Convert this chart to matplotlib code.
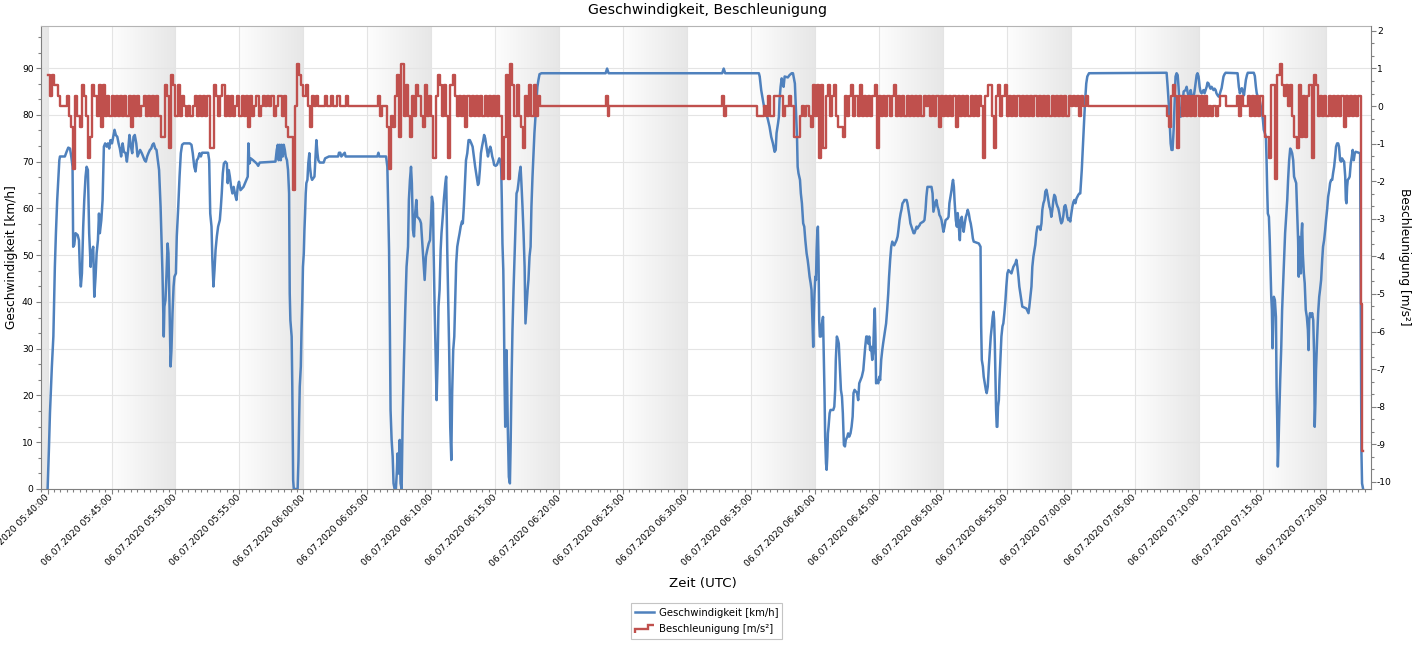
import numpy as np
import matplotlib
matplotlib.use('Agg')
import matplotlib.pyplot as plt
from matplotlib.ticker import MultipleLocator, FuncFormatter
from matplotlib.colors import LinearSegmentedColormap
from matplotlib.legend_handler import HandlerBase
from matplotlib.lines import Line2D
from datetime import datetime, timedelta

# time axis: seconds after 06.07.2020 05:40:00 (UTC)
START = datetime(2020, 7, 6, 5, 40, 0)

# speed readings (seconds, km/h)
speed_1 = [(0, 0.0), (6, 8.3), (11, 16.2), (16, 21.9), (20, 26.2), (27, 32.6), (30, 39.0), (34, 47.5),
           (39, 54.7), (45, 61.8), (50, 66.1), (55, 70.3), (58, 71.1), (81, 71.1), (89, 72.1), (97, 73.0),
           (105, 72.8), (111, 71.1), (117, 68.9), (120, 51.8), (125, 52.2), (131, 54.7), (141, 54.3),
           (147, 53.2), (152, 46.1), (156, 43.3), (161, 46.1), (167, 56.1), (172, 61.8), (178, 66.8),
           (183, 68.9), (189, 68.2), (195, 54.7), (202, 47.5), (206, 50.4), (214, 51.8), (219, 41.1),
           (225, 45.4), (230, 50.4), (236, 53.2), (241, 58.9), (245, 54.7), (252, 57.5), (258, 61.8),
           (264, 73.2), (270, 73.9), (277, 73.2), (283, 73.9), (289, 72.8), (295, 74.6), (302, 73.9),
           (308, 75.3), (314, 76.8), (320, 75.7), (327, 75.3), (333, 73.9), (339, 72.8), (345, 71.1),
           (352, 73.9), (358, 72.1), (366, 71.8), (372, 70.0), (378, 72.5), (384, 75.7), (391, 73.2),
           (397, 71.8), (403, 75.3), (409, 75.7), (416, 73.9), (422, 71.1), (428, 71.8), (434, 72.5),
           (442, 71.8), (448, 71.1), (455, 70.3), (461, 70.0), (467, 71.1), (473, 71.8), (480, 72.5),
           (486, 72.8), (492, 73.6), (498, 73.9), (505, 72.8), (511, 72.5), (517, 70.3), (523, 68.2),
           (530, 60.4), (534, 54.0), (539, 46.1), (542, 39.0), (545, 32.6), (548, 39.0), (553, 40.4),
           (558, 46.1), (563, 52.5), (567, 50.4), (572, 39.0), (577, 26.2), (581, 29.7), (586, 37.6),
           (591, 43.3), (595, 45.4), (602, 46.1), (606, 54.0), (613, 60.4), (619, 66.8), (625, 71.8),
           (631, 73.6), (639, 73.9), (667, 73.9), (675, 73.6), (681, 71.8), (688, 68.9), (694, 67.9),
           (700, 70.3), (706, 70.7), (713, 71.8), (719, 71.1), (725, 71.9), (753, 71.9), (758, 70.3),
           (763, 58.9), (769, 56.1), (773, 49.0), (778, 43.3), (783, 46.8), (788, 51.1), (794, 54.0),
           (800, 56.1), (808, 57.5), (813, 60.4), (817, 63.2), (822, 67.5), (827, 69.6), (834, 70.0),
           (841, 69.6), (845, 65.4), (850, 68.2), (855, 66.8), (861, 64.6), (867, 63.2), (873, 64.6),
           (880, 62.9), (886, 61.8), (892, 64.6), (898, 65.7), (905, 63.9), (919, 64.6), (933, 66.1),
           (939, 66.8), (942, 73.9), (947, 69.6), (953, 70.7), (964, 70.3), (981, 69.6), (988, 69.1),
           (995, 69.8), (1069, 70.0), (1075, 72.5), (1080, 73.6), (1084, 70.3), (1089, 73.6),
           (1094, 70.3), (1098, 73.6), (1103, 71.1), (1108, 73.6), (1113, 72.5), (1117, 71.1),
           (1123, 70.3), (1128, 68.2), (1133, 63.2), (1136, 41.8), (1139, 36.1), (1145, 32.6),
           (1148, 21.9), (1152, 1.9), (1155, 0.0), (1173, 0.0), (1177, 6.2), (1180, 14.8), (1183, 21.9),
           (1188, 26.2), (1191, 33.3), (1195, 40.4), (1198, 47.5), (1202, 50.4), (1205, 55.4),
           (1208, 58.9), (1211, 63.2), (1214, 65.4), (1219, 66.1), (1223, 69.6), (1228, 71.8),
           (1231, 68.9), (1236, 66.8), (1241, 66.1), (1252, 66.8), (1256, 70.3), (1261, 74.6),
           (1266, 71.8), (1270, 70.3), (1277, 69.8), (1295, 69.8), (1302, 70.7), (1320, 71.1),
           (1363, 71.1), (1367, 71.9), (1373, 71.9), (1378, 71.1), (1394, 71.9), (1398, 71.1),
           (1419, 71.1)]

speed_2 = [(1547, 71.1), (1552, 71.9), (1556, 71.1), (1588, 71.1), (1594, 68.9), (1597, 61.8), (1602, 51.1),
           (1606, 33.3), (1609, 16.9), (1614, 10.5), (1619, 6.9), (1623, 1.2), (1628, 0.0), (1634, 0.0),
           (1639, 4.1), (1642, 7.6), (1647, 3.3), (1652, 10.5), (1656, 1.2), (1661, 0.0), (1666, 15.5),
           (1672, 27.6), (1678, 38.3), (1684, 47.5), (1691, 51.8), (1695, 61.8), (1700, 66.1), (1705, 68.9),
           (1709, 65.4), (1714, 55.4), (1719, 54.0), (1723, 58.2), (1730, 61.8), (1734, 58.2), (1741, 57.9),
           (1747, 57.5), (1752, 56.8), (1758, 52.5), (1764, 48.3), (1769, 44.7), (1775, 49.7), (1781, 51.1),
           (1788, 52.5), (1794, 53.2), (1798, 56.8), (1803, 62.5), (1808, 61.1), (1811, 51.1), (1816, 38.3),
           (1820, 29.7), (1825, 19.0), (1830, 27.6), (1834, 39.0), (1839, 42.6), (1844, 51.1), (1848, 54.7),
           (1855, 58.9), (1859, 61.8), (1866, 65.4), (1870, 66.8), (1875, 51.1), (1880, 39.0), (1884, 29.7),
           (1889, 13.3), (1894, 6.2), (1898, 20.5), (1903, 29.7), (1908, 32.6), (1913, 41.1), (1917, 48.3),
           (1922, 51.8), (1927, 53.2), (1933, 54.7), (1938, 56.1), (1944, 57.2), (1948, 56.8), (1953, 60.4),
           (1958, 65.4), (1963, 70.3), (1969, 71.8), (1975, 74.6), (1981, 74.6), (1988, 73.9), (1994, 73.2),
           (2000, 71.1), (2006, 68.9), (2013, 66.8), (2019, 65.0), (2023, 65.4), (2028, 68.2), (2033, 71.8),
           (2038, 73.2), (2044, 74.6), (2048, 75.7), (2053, 75.0), (2059, 73.2), (2066, 71.1), (2072, 72.5),
           (2077, 73.2), (2081, 72.5), (2086, 71.1), (2091, 70.3), (2095, 69.3), (2102, 69.1), (2108, 69.3),
           (2114, 70.0), (2119, 70.7), (2123, 70.3), (2128, 68.9), (2131, 61.8), (2134, 52.5), (2138, 46.8),
           (2141, 36.8), (2144, 22.6), (2147, 13.3), (2150, 22.6), (2153, 29.7), (2156, 22.6), (2159, 13.3),
           (2164, 2.6), (2169, 1.2), (2172, 8.3), (2177, 24.0), (2181, 34.0), (2186, 42.6), (2191, 49.7),
           (2195, 54.7), (2200, 63.2), (2205, 63.9), (2209, 65.4), (2214, 67.5), (2219, 68.9), (2223, 65.4),
           (2228, 60.4), (2233, 54.7), (2238, 47.5), (2242, 35.4), (2247, 39.0), (2252, 42.6), (2256, 44.7),
           (2261, 49.7), (2266, 51.8), (2270, 60.4), (2275, 66.8), (2280, 71.8), (2284, 76.1), (2289, 79.6),
           (2294, 83.2), (2298, 86.0), (2303, 87.5), (2308, 88.7), (2317, 88.9)]

speed_3 = [(2618, 88.9), (2625, 89.9), (2632, 88.9), (3165, 88.9), (3172, 89.9), (3179, 88.9), (3337, 88.9),
           (3341, 88.2), (3348, 85.3), (3356, 83.2), (3364, 81.0), (3372, 80.3), (3380, 78.9), (3387, 77.5),
           (3395, 75.3), (3403, 73.9), (3411, 72.1), (3416, 72.5), (3420, 76.1), (3427, 78.2), (3431, 79.6),
           (3434, 83.2), (3439, 86.0), (3444, 87.8), (3448, 87.1), (3453, 86.0), (3458, 88.2), (3473, 88.0),
           (3481, 88.5), (3491, 88.9), (3497, 88.9)]

speed_4 = [(3506, 86.7), (3511, 81.0), (3516, 75.3), (3519, 68.9), (3523, 67.5), (3530, 66.1), (3534, 63.2),
           (3539, 61.1), (3545, 56.8), (3550, 56.1), (3555, 53.2), (3561, 50.4), (3566, 49.0), (3570, 47.5),
           (3575, 45.4), (3580, 44.0), (3584, 42.6), (3589, 34.8), (3592, 30.4), (3595, 37.6), (3598, 41.8),
           (3602, 45.4), (3605, 44.7), (3608, 51.1), (3611, 54.7), (3614, 56.1), (3617, 49.0), (3620, 36.1),
           (3623, 32.6), (3628, 32.6), (3633, 35.4), (3638, 36.8), (3642, 27.6), (3645, 20.5), (3648, 11.2),
           (3652, 5.5), (3655, 4.1), (3658, 6.9), (3661, 11.9), (3664, 13.3), (3669, 16.2), (3673, 16.9),
           (3686, 16.9), (3691, 17.6), (3695, 21.2), (3698, 27.6), (3703, 32.6), (3708, 31.9), (3712, 31.1),
           (3717, 26.2), (3722, 21.2), (3727, 19.7), (3731, 16.2), (3736, 9.4), (3741, 9.1), (3745, 10.5),
           (3752, 11.2), (3756, 11.9), (3761, 11.2), (3767, 11.9), (3772, 13.3), (3777, 15.5), (3781, 20.5),
           (3786, 21.2), (3798, 20.5), (3803, 19.0), (3808, 22.6), (3820, 24.0), (3827, 25.4), (3831, 27.6),
           (3836, 30.4), (3841, 32.6), (3845, 32.6), (3850, 31.1), (3855, 32.6), (3859, 29.7), (3864, 30.4),
           (3869, 27.6), (3873, 29.0), (3878, 36.1), (3881, 38.6), (3884, 32.6), (3887, 22.6), (3892, 23.3),
           (3897, 22.6), (3902, 24.0), (3906, 23.3), (3911, 27.6), (3916, 29.7), (3920, 31.1), (3925, 32.6),
           (3930, 34.0), (3934, 35.4), (3939, 38.3), (3944, 41.8), (3948, 45.4), (3953, 49.0), (3958, 51.8),
           (3963, 52.9), (3972, 52.1), (3983, 53.2), (3988, 54.0), (3992, 55.4), (3997, 57.5), (4002, 58.9),
           (4006, 59.7), (4011, 61.1), (4016, 61.4), (4020, 61.8), (4030, 61.8), (4034, 61.1), (4039, 59.7),
           (4044, 58.2), (4048, 56.8), (4053, 56.1), (4058, 55.4), (4063, 54.7), (4067, 54.7), (4072, 55.4),
           (4077, 56.1), (4081, 55.7), (4086, 56.1), (4091, 56.4), (4095, 56.8), (4109, 57.2), (4114, 57.5),
           (4119, 59.7), (4123, 62.5), (4128, 64.6), (4147, 64.6), (4152, 63.2), (4156, 59.3), (4161, 60.4),
           (4166, 61.4), (4170, 61.8), (4175, 60.4), (4180, 59.7), (4184, 58.6), (4189, 58.2), (4194, 57.5),
           (4198, 56.4), (4203, 55.0), (4208, 56.1), (4213, 57.5), (4222, 57.8), (4227, 58.2), (4231, 61.1),
           (4236, 62.5), (4241, 63.9), (4245, 65.4), (4248, 66.1), (4252, 64.6), (4255, 61.8), (4258, 59.7),
           (4261, 57.5), (4266, 56.1), (4270, 59.0), (4275, 56.1), (4280, 53.2), (4284, 57.5), (4289, 58.2),
           (4294, 56.1), (4298, 55.0), (4303, 56.8), (4308, 58.2), (4313, 58.9), (4317, 59.7), (4322, 58.9),
           (4327, 57.5), (4331, 56.8), (4336, 55.4), (4341, 53.6), (4345, 52.9), (4369, 52.5), (4377, 51.8),
           (4380, 34.7), (4383, 27.6), (4388, 26.2), (4392, 24.0), (4397, 22.6), (4402, 21.2), (4406, 20.5),
           (4411, 21.9), (4416, 26.2), (4420, 29.0), (4425, 32.6), (4430, 34.8), (4434, 36.8), (4438, 37.9),
           (4441, 36.1), (4444, 31.1), (4447, 24.0), (4450, 16.9), (4453, 13.3), (4456, 13.3), (4459, 17.6),
           (4463, 19.0), (4466, 23.3), (4470, 27.6), (4475, 32.6), (4480, 34.8), (4484, 35.4), (4489, 37.6),
           (4494, 40.4), (4498, 43.3), (4503, 46.1), (4508, 46.8), (4522, 46.1), (4531, 47.5), (4541, 48.3),
           (4545, 49.0), (4550, 47.5), (4555, 45.4), (4559, 43.3), (4564, 41.8), (4569, 40.4), (4573, 39.0),
           (4592, 38.6), (4602, 37.6), (4606, 39.0), (4611, 41.1), (4616, 43.3), (4620, 47.5), (4625, 49.7),
           (4630, 51.1), (4634, 52.2), (4639, 54.7), (4644, 56.1), (4653, 56.1), (4658, 55.4), (4663, 56.8),
           (4667, 59.7), (4672, 61.1), (4677, 61.8), (4681, 63.6), (4686, 64.0), (4691, 62.9), (4695, 61.8),
           (4700, 60.4), (4705, 59.7), (4709, 58.2), (4714, 59.7), (4719, 61.8), (4723, 62.9), (4728, 62.5),
           (4733, 61.1), (4738, 60.4), (4742, 60.0), (4747, 58.9), (4752, 57.5), (4756, 56.8), (4761, 57.2),
           (4766, 58.6), (4770, 60.4), (4775, 60.7), (4780, 59.7), (4784, 58.2), (4789, 57.5), (4794, 57.8),
           (4798, 57.2), (4803, 58.9), (4808, 60.4), (4813, 61.4), (4817, 61.8), (4822, 61.1), (4827, 62.1),
           (4836, 62.9), (4841, 63.2), (4845, 63.2), (4848, 65.4), (4852, 68.2), (4855, 71.1), (4858, 73.9),
           (4861, 76.8), (4864, 79.6), (4867, 82.5), (4870, 84.6), (4873, 86.7), (4878, 88.2), (4886, 88.9)]

speed_5 = [(5250, 89.0), (5255, 86.0), (5260, 82.5), (5264, 78.9), (5269, 73.9), (5273, 72.5), (5278, 72.5),
           (5283, 76.8), (5288, 83.2), (5292, 88.2), (5297, 88.9), (5302, 88.5), (5306, 86.0), (5311, 81.8),
           (5316, 79.6), (5320, 80.0), (5325, 82.5), (5330, 85.0), (5339, 85.3), (5344, 86.0), (5348, 85.0),
           (5353, 83.9), (5358, 83.5), (5363, 85.3), (5367, 84.2), (5372, 83.2), (5377, 83.9), (5381, 85.0),
           (5386, 86.7), (5391, 88.5), (5395, 88.9), (5400, 88.2), (5405, 86.0), (5409, 85.0), (5414, 84.6),
           (5419, 85.0), (5423, 85.3), (5428, 84.6), (5433, 85.3), (5438, 86.0), (5442, 86.9), (5447, 86.7),
           (5452, 86.0), (5456, 85.6), (5461, 86.0), (5466, 85.6), (5470, 85.3), (5475, 85.6), (5480, 85.3),
           (5484, 84.6), (5489, 84.2), (5494, 83.9), (5498, 84.2), (5503, 85.0), (5508, 85.7), (5513, 87.1),
           (5517, 88.2), (5522, 88.7), (5527, 89.0), (5583, 88.9), (5586, 87.5), (5589, 86.0), (5594, 84.6),
           (5598, 85.3), (5603, 85.7), (5608, 85.0), (5613, 84.2), (5617, 85.7), (5622, 87.5), (5627, 88.5),
           (5631, 89.0), (5659, 89.0), (5664, 88.3), (5669, 86.0), (5673, 84.6), (5678, 83.9), (5683, 83.2),
           (5688, 82.8), (5692, 81.8), (5697, 80.7), (5702, 78.9), (5706, 76.8), (5711, 76.1), (5716, 75.3),
           (5719, 70.3), (5722, 63.9), (5725, 58.9), (5730, 58.2), (5734, 53.2), (5738, 46.1), (5741, 41.1),
           (5744, 38.3), (5747, 30.1), (5750, 36.1), (5753, 41.1), (5758, 40.4), (5763, 36.8), (5766, 21.9),
           (5769, 14.8), (5772, 4.8), (5775, 9.1), (5778, 14.8), (5783, 23.3), (5788, 30.4), (5792, 38.3),
           (5797, 44.0), (5802, 49.7), (5806, 54.7), (5811, 58.2), (5816, 61.8), (5820, 66.1), (5825, 70.3),
           (5830, 72.8), (5834, 72.5), (5839, 71.8), (5844, 70.3), (5848, 66.8), (5853, 66.1), (5858, 65.4),
           (5863, 58.9), (5867, 53.2), (5870, 45.4), (5873, 53.9), (5877, 50.4), (5880, 46.1), (5883, 54.7),
           (5886, 56.8), (5889, 50.4), (5894, 46.1), (5898, 44.0), (5903, 38.3), (5908, 36.8), (5913, 34.0),
           (5916, 29.7), (5919, 36.1), (5923, 37.6), (5928, 36.8), (5933, 37.6), (5938, 36.1), (5942, 29.0),
           (5945, 13.3), (5948, 18.3), (5951, 25.4), (5956, 31.9), (5961, 37.6), (5966, 41.1), (5970, 42.6),
           (5975, 44.7), (5980, 49.0), (5984, 51.8), (5989, 53.2), (5994, 55.4), (5998, 57.5), (6003, 59.7),
           (6008, 62.5), (6013, 63.9), (6017, 65.4), (6022, 66.1), (6027, 66.1), (6031, 67.5), (6036, 68.9),
           (6041, 71.1), (6045, 73.2), (6050, 73.9), (6055, 73.9), (6059, 73.2), (6064, 70.3), (6069, 70.0),
           (6073, 70.7), (6078, 70.3), (6083, 70.0), (6088, 66.8), (6091, 61.8), (6094, 61.1), (6097, 64.6),
           (6100, 66.1), (6105, 66.4), (6109, 66.8), (6114, 69.6), (6119, 71.1), (6123, 72.5), (6128, 70.3),
           (6133, 71.8), (6137, 72.1), (6152, 71.9), (6158, 71.7), (6164, 8.3), (6167, 1.2), (6172, 0.0)]

# acceleration readings in km/h per second (1 step = 1/3.6 m/s^2), one reading per 10 s
ACC_STEP = 10
acc_start_1 = 0
acc_run_1 = [3, 1, 3, 2, 2, 1, 0, 0, 0, 1,
             -1, -2, -6, 1, -1, -2, 2, 1, -1, -5,
             -3, 2, 1, -1, 2, -2, 2, -1, 1, -1,
             1, -1, 1, -1, 1, -1, 1, -1, 1, -2,
             1, -1, 1, -1, 0, 1, -1, 1, -1, 1,
             -1, 1, -1, -3, -3, 2, 1, -4, 3, 2,
             -1, 2, -1, 1, 0, -1, 0, -1, 0, 1,
             -1, 1, -1, 1, -1, 1, -4, -4, 2, 1,
             -1, 1, 2, -1, 1, -1, 1, -1, 0, 1,
             -1, 1, -1, 1, -2, 1, -1, 0, 1, -1,
             0, 1, 0, 1, 0, 1, -1, 0, 1, 1,
             -1, 1, -2, -3, -3, -8, 0, 4, 3, 2,
             1, 2, 0, -2, 1, 0, 1, 0, 0, 0,
             1, 0, 0, 1, 0, 0, 1, 0, 0, 0,
             1, 0, 0, 0, 0, 0, 0, 0, 0, 0,
             0, 0, 0, 0, 0, 1, -1, 0, 0, -2,
             -6, -1, -2, 1, 3, -3, 4, -1, 2, -1,
             -3, 1, -1, 2, 1, -1, -2, 2, -1, 1,
             -1, -5, 1, 3, 2, -1, 2, -1, -5, 2,
             3, 1, -1, 1, -1, 1, -2, 1, -1, 1,
             -1, 1, -1, 1, -1, 1, -1, 1, -1, 1,
             -1, 1, -1, -7, -3, 3, -7, 4, 2, -1,
             2, -1, -2, -4, 1, -1, 2, -1, 2, -1,
             1, 0]
acc_start_2 = 3330
acc_run_2 = [-1, -1, -1, 0, -1, 1, -1, -1, 1, 1,
             1, 1, -1, 0, 0, 1, 0, -3, -3, -3,
             -1, 0, -1, 0, -1, -2, 2, -1, 2, -5,
             2, -4, 1, 2, -1, 1, 2, -1, -2, -2,
             -3, 1, -1, 1, 2, -1, 1, -1, 2, -1,
             1, -1, 1, -1, 1, 2, -4, 1, -1, 1,
             -1, 1, -1, 1, 2, -1, 1, -1, 1, -1,
             1, -1, 1, -1, 1, -1, 1, -1, 1, 0,
             1, -1, 1, -1, 1, -2, 1, -1, 1, -1,
             1, -1, 1, -2, 1, -1, 1, -1, 1, -1,
             1, -1, 1, -1, 1, 0, -5, 1, 2, 2,
             -1, -4, 1, 2, -1, 1, 2, -1, 1, -1,
             1, -1, 1, -1, 1, -1, 1, -1, 1, -1,
             1, -1, 1, -1, 1, -1, 1, -1, 1, -1,
             1, -1, 1, -1, 1, -1, 1, 0, 1, 0,
             1, -1, 1, 0, 1, 0]
acc_start_3 = 5250
acc_run_3 = [-1, -2, 1, 2, 1, -4, 1, -1, 1, -1,
             1, -1, 1, -1, 1, -1, 1, -1, 1, -1,
             0, -1, 0, -1, 0, 1, 1, 1, 0, 0,
             0, 0, 0, 1, -1, 1, 0, 0, 1, -1,
             1, -1, 1, -1, 1, -1, -3, -3, -5, 2,
             2, -7, 3, 4, 2, 1, 2, 0, 2, -1,
             -3, -4, 2, -3, 1, -3, 1, 2, -5, 3,
             2, -1, 1, -1, 1, -1, 1, -1, 1, -1,
             1, -1, 1, -2, 1, -1, 1, -1, 1, -1, 1]
# single readings outside the runs (seconds, km/h per s)
acc_spikes = [(2620, 1), (2628, -1), (2636, 0), (3166, 1), (3174, -1), (3182, 0)]
acc_end = [(6163, -19), (6167, -33), (6172, -33)]

TITLE = 'Geschwindigkeit, Beschleunigung'
SPEED_LABEL = 'Geschwindigkeit [km/h]'
ACC_LABEL = 'Beschleunigung [m/s²]'


class StepHandler(HandlerBase):
    # legend icon drawn as a small staircase
    def create_artists(self, legend, orig_handle, xdescent, ydescent, width, height, fontsize, trans):
        x0, y0 = -xdescent, -ydescent
        xs = [x0, x0, x0 + 0.7 * width, x0 + 0.7 * width, x0 + width]
        ys = [y0 - 0.1 * height, y0 + 0.45 * height, y0 + 0.45 * height, y0 + height, y0 + height]
        line = Line2D(xs, ys, color=orig_handle.get_color(), lw=orig_handle.get_linewidth(),
                      solid_joinstyle='miter', solid_capstyle='butt')
        line.set_transform(trans)
        return [line]


def build_acc():
    events = []
    for start, vals in ((acc_start_1, acc_run_1), (acc_start_2, acc_run_2), (acc_start_3, acc_run_3)):
        for i, k in enumerate(vals):
            events.append((start + i * ACC_STEP, k))
        events.append((start + len(vals) * ACC_STEP, 0))
    events += acc_spikes + acc_end
    events.sort()
    t = np.array([e[0] for e in events], dtype=float)
    a = np.array([e[1] for e in events], dtype=float) / 3.6
    return t, a


def main():
    plt.rcParams['font.family'] = ['DejaVu Sans']
    plt.rcParams['axes.unicode_minus'] = False

    fig = plt.figure(figsize=(14.14, 6.47), dpi=100)
    ax = fig.add_axes([41 / 1414, 1 - 489 / 647, 1330 / 1414, 463 / 647])

    # alternating shaded 5-minute bands with a horizontal gradient
    band_cmap = LinearSegmentedColormap.from_list('band', ['#fdfdfd', '#e7e7e7'])
    grad = np.linspace(0, 1, 128)[None, :]
    for b0 in range(-300, 6300, 600):
        ax.imshow(grad, cmap=band_cmap, extent=(b0, b0 + 300, 0, 99), aspect='auto',
                  interpolation='bilinear', zorder=0)

    speed = speed_1 + speed_2 + speed_3 + speed_4 + speed_5
    st = [p[0] for p in speed]
    sv = [p[1] for p in speed]
    l1, = ax.plot(st, sv, color='#4f81bd', lw=1.8, solid_joinstyle='round', zorder=3)

    ax.set_xlim(-31, 6209)
    ax.set_ylim(0, 99)
    ax.set_axisbelow(True)
    ax.grid(True, which='major', color='#e4e4e4', lw=0.8)

    ax.xaxis.set_major_locator(MultipleLocator(300))
    ax.xaxis.set_minor_locator(MultipleLocator(30))
    ax.xaxis.set_major_formatter(FuncFormatter(
        lambda t, pos: (START + timedelta(seconds=t)).strftime('%d.%m.%Y %H:%M:%S')))
    ax.yaxis.set_major_locator(MultipleLocator(10))
    ax.yaxis.set_minor_locator(MultipleLocator(10 / 3))

    ax.tick_params(axis='both', which='major', length=3.3, width=0.8, color='#808080',
                   labelsize=6.6, pad=2)
    ax.tick_params(axis='both', which='minor', length=2.0, width=0.8, color='#808080')
    for lbl in ax.get_xticklabels():
        lbl.set_rotation(45)
        lbl.set_ha('right')
        lbl.set_va('center')
        lbl.set_rotation_mode('anchor')

    ax2 = ax.twinx()
    at, av = build_acc()
    l2, = ax2.plot(at, av, color='#c0504d', lw=1.7, drawstyle='steps-post', zorder=3)
    ax2.set_ylim(-10.19, 2.13)
    ax2.yaxis.set_major_locator(MultipleLocator(1))
    ax2.yaxis.set_minor_locator(MultipleLocator(1 / 3))
    ax2.tick_params(axis='y', which='major', length=3.3, width=0.8, color='#808080',
                    labelsize=6.6, pad=1)
    ax2.tick_params(axis='y', which='minor', length=2.0, width=0.8, color='#808080')

    for name in ('left', 'bottom'):
        ax.spines[name].set_color('#7f7f7f')
    ax.spines['top'].set_color('#b4b4b4')
    ax.spines['right'].set_visible(False)
    ax2.spines['right'].set_color('#7f7f7f')
    for name in ('left', 'bottom', 'top'):
        ax2.spines[name].set_visible(False)

    fig.text(0.5, 1 - 10 / 647, TITLE, ha='center', va='center', fontsize=10.2)
    fig.text(12 / 1414, 1 - 257 / 647, SPEED_LABEL, rotation=90, ha='center', va='center', fontsize=8.7)
    fig.text(1404 / 1414, 1 - 257 / 647, ACC_LABEL, rotation=-90, ha='center', va='center', fontsize=8.7)
    fig.text(703 / 1414, 1 - 583 / 647, 'Zeit (UTC)', ha='center', va='center', fontsize=9.6)

    leg = fig.legend([l1, l2], [SPEED_LABEL, ACC_LABEL], loc='center',
                     bbox_to_anchor=(706.5 / 1414, 1 - 621 / 647), fontsize=7.3,
                     handler_map={l2: StepHandler()}, handlelength=1.9, handletextpad=0.45,
                     labelspacing=0.65, borderpad=0.42, fancybox=False, framealpha=1,
                     edgecolor='#c4c4c4')
    leg.get_frame().set_linewidth(0.8)

    fig.savefig('out.png', dpi=100, facecolor='white')


if __name__ == '__main__':
    main()
